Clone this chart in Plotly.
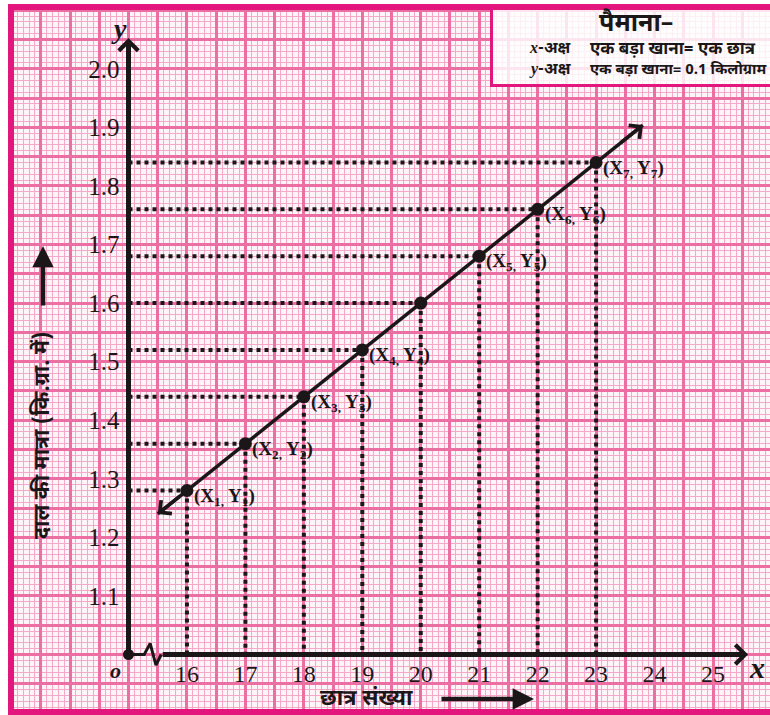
import numpy as np
import plotly.graph_objects as go

# Number of students vs. mass of pulses (kg)
STUDENTS = [16, 17, 18, 19, 20, 21, 22, 23]
MASS_KG = [1.28, 1.36, 1.44, 1.52, 1.60, 1.68, 1.76, 1.84]
POINT_TAGS = ["1", "2", "3", "4", "", "5", "6", "7"]

X_TICK_LABELS = [16, 17, 18, 19, 20, 21, 22, 23, 24, 25]
Y_TICK_LABELS = [1.1, 1.2, 1.3, 1.4, 1.5, 1.6, 1.7, 1.8, 1.9, 2.0]

Y_TITLE = "दाल की मात्रा (कि.ग्रा. में)"
X_TITLE = "छात्र संख्या"
SCALE_TITLE = "पैमाना–"
SCALE_X = ("x", "-अक्ष", "एक बड़ा खाना= एक छात्र")
SCALE_Y = ("y", "-अक्ष", "एक बड़ा खाना= 0.1 किलोग्राम")

# ---- page geometry -------------------------------------------------------
W, H = 770, 715
ML, MR, MT, MB = 11, 0, 7, 3
X0, Y0 = 15.0, 1.0                  # value at the (broken) origin
PX_PER_X, PX_PER_Y = 58.45, 585.7   # one big square = 1 student / 0.1 kg
ORIGIN_PX = (128.5, 654.5)

x_range = [X0 - (ORIGIN_PX[0] - ML) / PX_PER_X, X0 + (W - MR - ORIGIN_PX[0]) / PX_PER_X]
y_range = [Y0 - (H - MB - ORIGIN_PX[1]) / PX_PER_Y, Y0 + (ORIGIN_PX[1] - MT) / PX_PER_Y]

PAPER_W = W - ML - MR
PAPER_H = H - MT - MB


def paper_x(px):
    return (px - ML) / PAPER_W


def paper_y(py):
    return (H - MB - py) / PAPER_H


INK = "#1b1718"
PINK_FRAME = "#e2167c"
PINK_MAJOR = "#ec6fa3"
PINK_MINOR = "#f4a9c8"
PAPER_BG = "#fff4f8"
SERIF = "Liberation Serif, Times New Roman, serif"
DEVA = "Noto Sans Devanagari, Lohit Devanagari, Noto Sans, sans-serif"

fig = go.Figure()

# dotted guide lines from each point to both axes
gx, gy = [], []
for sx, my in zip(STUDENTS, MASS_KG):
    gx += [X0, sx, None, sx, sx, None]
    gy += [my, my, None, my, Y0, None]
fig.add_trace(go.Scatter(x=gx, y=gy, mode="lines",
                         line=dict(color=INK, width=4, dash="dot"),
                         hoverinfo="skip", showlegend=False))

# straight line through the points, extended past both ends
slope, intercept = np.polyfit(STUDENTS, MASS_KG, 1)
line_x = np.array([15.5, 23.8])
line_y = slope * line_x + intercept
fig.add_trace(go.Scatter(x=line_x, y=line_y, mode="lines",
                         line=dict(color=INK, width=3.5),
                         hoverinfo="skip", showlegend=False))

# the points
fig.add_trace(go.Scatter(x=STUDENTS, y=MASS_KG, mode="markers",
                         marker=dict(color=INK, size=13),
                         showlegend=False))

# axis break zig-zag and origin dot
brk_x = [X0, 15.27, 15.37, 15.47, 15.56]
brk_y = [Y0, Y0, Y0 + 0.019, Y0 - 0.018, Y0]
fig.add_trace(go.Scatter(x=brk_x, y=brk_y, mode="lines",
                         line=dict(color=INK, width=3), hoverinfo="skip",
                         showlegend=False))
fig.add_trace(go.Scatter(x=[X0], y=[Y0], mode="markers",
                         marker=dict(color=INK, size=11), showlegend=False))

annotations = []

# main axes with open arrow heads
X_TIP = 25.6
Y_TIP = 2.0526
annotations.append(dict(x=X_TIP, y=Y0, ax=15.56, ay=Y0, xref="x", yref="y",
                        axref="x", ayref="y", text="", showarrow=True,
                        arrowhead=4, arrowwidth=5, arrowsize=0.75, arrowcolor=INK))
annotations.append(dict(x=X0, y=Y_TIP, ax=X0, ay=Y0, xref="x", yref="y",
                        axref="x", ayref="y", text="", showarrow=True,
                        arrowhead=4, arrowwidth=5, arrowsize=0.75, arrowcolor=INK))

# arrow heads on both ends of the fitted line
for end, back in ((line_x[1], line_x[1] - 0.4), (line_x[0], line_x[0] + 0.4)):
    annotations.append(dict(x=end, y=slope * end + intercept,
                            ax=back, ay=slope * back + intercept,
                            xref="x", yref="y", axref="x", ayref="y", text="",
                            showarrow=True, arrowhead=4, arrowwidth=3.5,
                            arrowsize=0.95, arrowcolor=INK))

# axis letters
annotations.append(dict(x=X0, y=Y_TIP, xref="x", yref="y", text="<b><i>y</i></b>",
                        showarrow=False, xshift=-10, yshift=9,
                        font=dict(family=SERIF, size=28, color=INK)))
annotations.append(dict(x=X_TIP, y=Y0, xref="x", yref="y", text="<b><i>x</i></b>",
                        showarrow=False, xshift=9, yshift=-13,
                        font=dict(family=SERIF, size=30, color=INK)))
annotations.append(dict(x=X0, y=Y0, xref="x", yref="y", text="<b><i>o</i></b>",
                        showarrow=False, xshift=-13, yshift=-16,
                        font=dict(family=SERIF, size=22, color=INK)))

# point labels (X_n, Y_n)
for sx, my, tag in zip(STUDENTS, MASS_KG, POINT_TAGS):
    if not tag:
        continue
    annotations.append(dict(x=sx, y=my, xref="x", yref="y",
                            text=f"<b>(X<sub>{tag},</sub> Y<sub>{tag}</sub>)</b>",
                            showarrow=False, xanchor="left", yanchor="middle",
                            xshift=5, yshift=-6,
                            font=dict(family=SERIF, size=19, color=INK)))


def page_text(px, py, text, size, xanchor="center", angle=0):
    return dict(x=paper_x(px), y=paper_y(py), xref="paper", yref="paper",
                text=text, showarrow=False, xanchor=xanchor, yanchor="middle",
                textangle=angle, font=dict(family=DEVA, size=size, color=INK))


# axis titles with their arrows
annotations.append(page_text(43, 436, f"<b>{Y_TITLE}</b>", 21.5, angle=-90))
annotations.append(dict(x=paper_x(43), y=paper_y(246), xref="paper", yref="paper",
                        ax=0, ay=61, text="", showarrow=True, arrowhead=2,
                        arrowwidth=4.5, arrowsize=0.95, arrowcolor=INK))
annotations.append(page_text(366, 699, f"<b>{X_TITLE}</b>", 22))
annotations.append(dict(x=paper_x(534), y=paper_y(699), xref="paper", yref="paper",
                        ax=-94, ay=0, text="", showarrow=True, arrowhead=2,
                        arrowwidth=4.5, arrowsize=0.95, arrowcolor=INK))

# scale box text
annotations.append(page_text(597, 24, f"<b>{SCALE_TITLE}</b>", 25, xanchor="left"))
for row_y, size, (letter, axis_txt, rule_txt) in ((50, 17, SCALE_X), (70, 15, SCALE_Y)):
    label = (f"<span style='font-family:{SERIF}'><b><i>{letter}</i></b></span>"
             f"<b>{axis_txt}</b>")
    annotations.append(page_text(573, row_y, label, 16, xanchor="right"))
    annotations.append(page_text(588, row_y, f"<b>{rule_txt}</b>", size, xanchor="left"))

shapes = [
    # scale box
    dict(type="rect", xref="paper", yref="paper", x0=paper_x(491.5), x1=1.05,
         y0=paper_y(85.5), y1=paper_y(6), line=dict(color=PINK_FRAME, width=3),
         fillcolor="rgba(255,255,255,0.82)", layer="above"),
    # paper frame
    dict(type="rect", xref="paper", yref="paper", x0=0, x1=1.05, y0=0, y1=1,
         line=dict(color=PINK_FRAME, width=6), layer="above"),
]

# graph-paper grid: heavy lines every half big square, light lines in between
x_major = np.round(np.arange(13.0, 26.01, 0.5), 2)
y_major = np.round(np.arange(0.90, 2.111, 0.05), 3)
x_text = [str(int(v)) if (v == int(v) and int(v) in X_TICK_LABELS) else "" for v in x_major]
y_text = []
for v in y_major:
    hit = [t for t in Y_TICK_LABELS if abs(t - v) < 1e-6]
    y_text.append(f"{hit[0]:.1f}" if hit else "")

fig.update_layout(
    width=W, height=H,
    margin=dict(l=ML, r=MR, t=MT, b=MB, pad=0),
    paper_bgcolor="white", plot_bgcolor=PAPER_BG,
    showlegend=False,
    xaxis=dict(range=x_range, showline=False, zeroline=False,
               tickmode="array", tickvals=x_major, ticktext=x_text,
               ticks="", ticklabelstandoff=2,
               anchor="free", position=(Y0 - y_range[0]) / (y_range[1] - y_range[0]),
               tickfont=dict(family=SERIF, size=24, color=INK),
               showgrid=True, gridcolor=PINK_MAJOR, gridwidth=2.5,
               minor=dict(tickmode="linear", tick0=X0, dtick=0.1, showgrid=True,
                          gridcolor=PINK_MINOR, gridwidth=1.3, ticks=""),
               fixedrange=True),
    yaxis=dict(range=y_range, showline=False, zeroline=False,
               tickmode="array", tickvals=y_major, ticktext=y_text,
               ticks="", ticklabelstandoff=9,
               anchor="free", position=(X0 - x_range[0]) / (x_range[1] - x_range[0]),
               tickfont=dict(family=SERIF, size=25, color=INK),
               showgrid=True, gridcolor=PINK_MAJOR, gridwidth=2.5,
               minor=dict(tickmode="linear", tick0=Y0, dtick=0.01, showgrid=True,
                          gridcolor=PINK_MINOR, gridwidth=1.3, ticks=""),
               fixedrange=True),
    annotations=annotations,
    shapes=shapes,
)

fig.write_html("out.html")
